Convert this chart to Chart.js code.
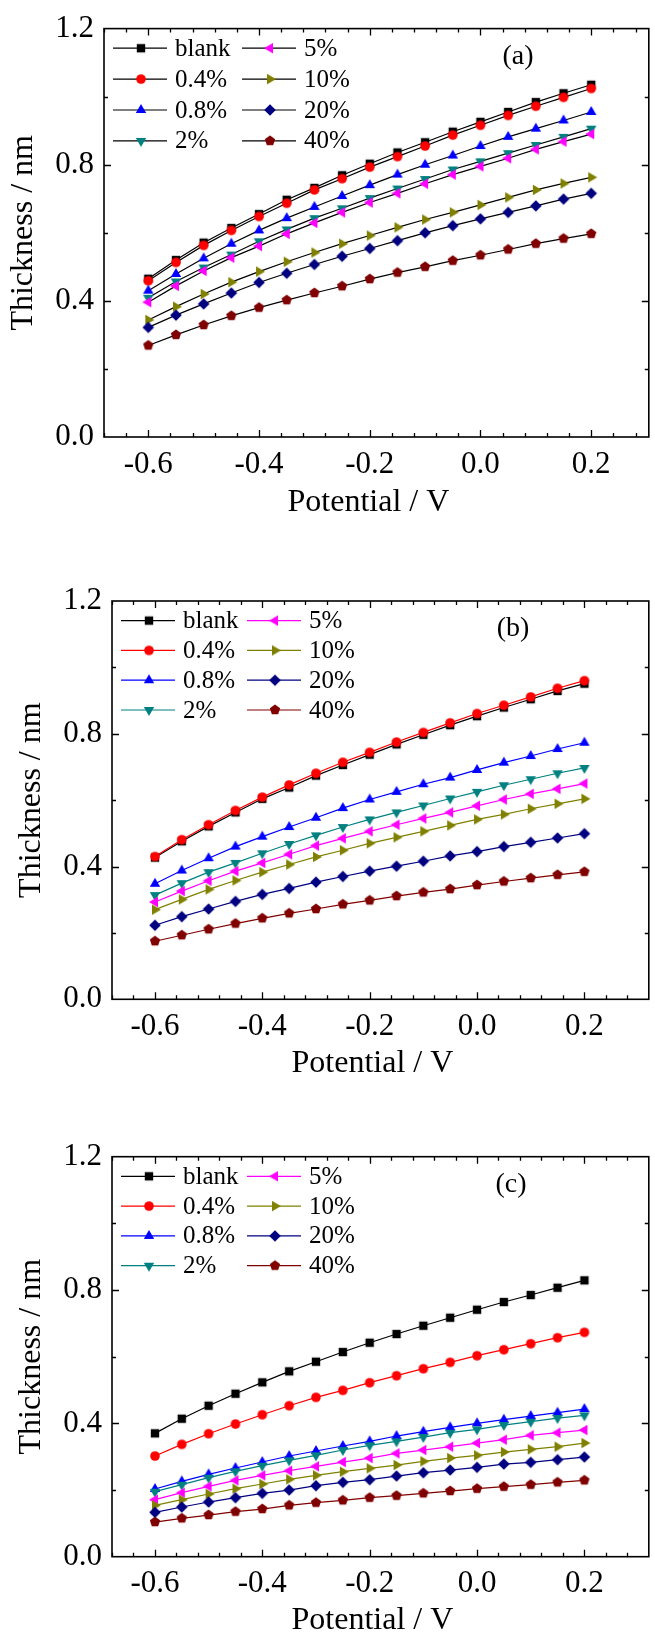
<!DOCTYPE html>
<html>
<head>
<meta charset="utf-8">
<title>Thickness vs potential</title>
<script src="https://cdn.jsdelivr.net/npm/chart.js@4.4.1/dist/chart.umd.min.js"></script>
<style>
  html, body { margin: 0; padding: 0; background: #fff; }
  body { position: relative; width: 655px; height: 1633px; overflow: hidden; }
  canvas { position: absolute; left: 0; }
</style>
</head>
<body>
<canvas id="chartA" width="655" height="540" style="top:0px"></canvas>
<canvas id="chartB" width="655" height="545" style="top:545px"></canvas>
<canvas id="chartC" width="655" height="543" style="top:1090px"></canvas>
<script>
// potential values (V) shared by every series
const potential = [-0.6, -0.55, -0.5, -0.45, -0.4, -0.35, -0.3, -0.25, -0.2, -0.15, -0.1, -0.05, 0, 0.05, 0.1, 0.15, 0.2];
const seriesNames = ['blank', '0.4%', '0.8%', '2%', '5%', '10%', '20%', '40%'];
const seriesColors = ['#000000', '#ff0000', '#0000ff', '#008080', '#ff00ff', '#808000', '#000080', '#800000'];
const markerShapes = ['square', 'circle', 'triUp', 'triDown', 'triLeft', 'triRight', 'diamond', 'pentagon'];
const xTicks = [-0.6, -0.4, -0.2, 0.0, 0.2];
const yTicks = [0.0, 0.4, 0.8, 1.2];

// panel (a) thickness, nm
const aBlank = [0.465, 0.520, 0.571, 0.614, 0.655, 0.697, 0.732, 0.769, 0.803, 0.836, 0.866, 0.897, 0.926, 0.955, 0.984, 1.010, 1.035];
const aP04 = [0.459, 0.513, 0.563, 0.607, 0.648, 0.687, 0.726, 0.759, 0.793, 0.824, 0.855, 0.887, 0.916, 0.945, 0.972, 0.998, 1.024];
const aP08 = [0.430, 0.479, 0.525, 0.568, 0.607, 0.643, 0.676, 0.708, 0.740, 0.771, 0.800, 0.827, 0.855, 0.882, 0.906, 0.930, 0.955];
const aP2 = [0.409, 0.457, 0.498, 0.536, 0.575, 0.610, 0.643, 0.672, 0.702, 0.730, 0.758, 0.786, 0.810, 0.834, 0.858, 0.882, 0.906];
const aP5 = [0.396, 0.444, 0.488, 0.527, 0.561, 0.597, 0.629, 0.660, 0.689, 0.716, 0.744, 0.771, 0.795, 0.819, 0.845, 0.868, 0.890];
const aP10 = [0.344, 0.383, 0.420, 0.455, 0.486, 0.515, 0.542, 0.568, 0.592, 0.616, 0.639, 0.660, 0.682, 0.704, 0.726, 0.745, 0.763];
const aP20 = [0.322, 0.358, 0.391, 0.423, 0.454, 0.481, 0.507, 0.531, 0.554, 0.577, 0.600, 0.621, 0.641, 0.660, 0.679, 0.699, 0.716];
const aP40 = [0.269, 0.300, 0.329, 0.356, 0.380, 0.402, 0.423, 0.443, 0.464, 0.483, 0.500, 0.518, 0.534, 0.551, 0.568, 0.583, 0.597];

// panel (b)
const bBlank = [0.427, 0.476, 0.521, 0.563, 0.604, 0.638, 0.674, 0.706, 0.737, 0.768, 0.797, 0.826, 0.853, 0.879, 0.904, 0.929, 0.951];
const bP04 = [0.430, 0.481, 0.526, 0.569, 0.609, 0.646, 0.681, 0.714, 0.744, 0.775, 0.804, 0.833, 0.861, 0.886, 0.911, 0.937, 0.960];
const bP08 = [0.348, 0.388, 0.425, 0.460, 0.490, 0.519, 0.547, 0.576, 0.602, 0.625, 0.648, 0.668, 0.691, 0.713, 0.733, 0.754, 0.773];
const bP2 = [0.314, 0.350, 0.383, 0.411, 0.440, 0.468, 0.494, 0.519, 0.542, 0.563, 0.584, 0.605, 0.625, 0.645, 0.663, 0.681, 0.697];
const bP5 = [0.293, 0.326, 0.357, 0.386, 0.411, 0.437, 0.463, 0.485, 0.506, 0.526, 0.545, 0.563, 0.583, 0.602, 0.619, 0.634, 0.650];
const bP10 = [0.270, 0.301, 0.331, 0.358, 0.383, 0.406, 0.429, 0.449, 0.470, 0.488, 0.506, 0.524, 0.542, 0.557, 0.574, 0.589, 0.604];
const bP20 = [0.223, 0.249, 0.272, 0.295, 0.316, 0.334, 0.353, 0.370, 0.386, 0.401, 0.416, 0.432, 0.445, 0.460, 0.473, 0.486, 0.499];
const bP40 = [0.175, 0.193, 0.211, 0.228, 0.244, 0.259, 0.272, 0.286, 0.298, 0.311, 0.322, 0.332, 0.344, 0.355, 0.365, 0.375, 0.384];

// panel (c)
const cBlank = [0.370, 0.414, 0.453, 0.489, 0.523, 0.556, 0.585, 0.614, 0.642, 0.668, 0.693, 0.717, 0.741, 0.764, 0.785, 0.807, 0.829];
const cP04 = [0.302, 0.337, 0.369, 0.398, 0.426, 0.453, 0.478, 0.499, 0.522, 0.543, 0.564, 0.583, 0.603, 0.621, 0.639, 0.657, 0.673];
const cP08 = [0.203, 0.226, 0.247, 0.266, 0.284, 0.302, 0.317, 0.332, 0.346, 0.362, 0.375, 0.388, 0.400, 0.411, 0.422, 0.432, 0.443];
const cP2 = [0.195, 0.216, 0.237, 0.256, 0.273, 0.289, 0.304, 0.320, 0.334, 0.346, 0.359, 0.372, 0.382, 0.395, 0.405, 0.416, 0.424];
const cP5 = [0.171, 0.192, 0.211, 0.229, 0.244, 0.258, 0.271, 0.284, 0.296, 0.310, 0.320, 0.330, 0.341, 0.351, 0.364, 0.372, 0.380];
const cP10 = [0.154, 0.171, 0.188, 0.204, 0.218, 0.232, 0.244, 0.255, 0.265, 0.275, 0.286, 0.296, 0.304, 0.314, 0.322, 0.330, 0.341];
const cP20 = [0.133, 0.149, 0.164, 0.177, 0.190, 0.200, 0.213, 0.223, 0.231, 0.242, 0.252, 0.260, 0.268, 0.278, 0.283, 0.291, 0.299];
const cP40 = [0.104, 0.115, 0.125, 0.135, 0.143, 0.154, 0.162, 0.169, 0.177, 0.183, 0.190, 0.197, 0.204, 0.210, 0.216, 0.223, 0.229];

const SERIF = "'Liberation Serif', 'Times New Roman', serif";

// draws one marker shape centred on (cx, cy)
function traceMarker(ctx, shape, cx, cy) {
  ctx.beginPath();
  const poly = (r, n, rot) => {
    for (let k = 0; k < n; k++) {
      const t = rot + k * 2 * Math.PI / n;
      const px = cx + r * Math.cos(t), py = cy + r * Math.sin(t);
      k ? ctx.lineTo(px, py) : ctx.moveTo(px, py);
    }
    ctx.closePath();
  };
  switch (shape) {
    case 'square': ctx.rect(cx - 4.2, cy - 4.2, 8.4, 8.4); break;
    case 'circle': ctx.arc(cx, cy, 4.8, 0, 2 * Math.PI); break;
    case 'triUp': poly(6, 3, -Math.PI / 2); break;
    case 'triDown': poly(6, 3, Math.PI / 2); break;
    case 'triLeft': poly(6, 3, Math.PI); break;
    case 'triRight': poly(6, 3, 0); break;
    case 'diamond': poly(5.8, 4, -Math.PI / 2); break;
    case 'pentagon': poly(5.4, 5, -Math.PI / 2); break;
  }
}

function markerImage(shape, color) {
  const c = document.createElement('canvas');
  c.width = 16; c.height = 16;
  const g = c.getContext('2d');
  traceMarker(g, shape, 8, 8);
  g.fillStyle = color;
  g.fill();
  return c;
}

const markerImages = markerShapes.map((s, i) => markerImage(s, seriesColors[i]));

// frame, inward ticks, legend, panel letter and axis titles
const panelDecor = {
  id: 'panelDecor',
  afterDatasetsDraw(chart) {
    const o = chart.options.plugins.panelDecor;
    const { ctx, chartArea: a, scales: { x, y } } = chart;
    ctx.save();
    ctx.strokeStyle = '#000';
    ctx.lineWidth = 1.6;
    ctx.strokeRect(a.left, a.top, a.right - a.left, a.bottom - a.top);

    ctx.lineWidth = 1.3;
    ctx.beginPath();
    for (let v = -0.68; v <= 0.321; v += 0.04) {
      const major = xTicks.some(t => Math.abs(t - v) < 1e-6);
      const len = major ? 7 : 4;
      const px = Math.round(x.getPixelForValue(v)) + 0.5;
      if (px > a.right - 1) continue;
      ctx.moveTo(px, a.bottom); ctx.lineTo(px, a.bottom - len);
      ctx.moveTo(px, a.top); ctx.lineTo(px, a.top + len);
    }
    for (let v = 0.2; v < 1.2; v += 0.2) {
      const major = yTicks.some(t => Math.abs(t - v) < 1e-6);
      const len = major ? 7 : 4;
      const py = Math.round(y.getPixelForValue(v)) + 0.5;
      ctx.moveTo(a.left, py); ctx.lineTo(a.left + len, py);
      ctx.moveTo(a.right, py); ctx.lineTo(a.right - len, py);
    }
    ctx.stroke();

    // two-column legend
    ctx.font = '25px ' + SERIF;
    ctx.textBaseline = 'middle';
    ctx.textAlign = 'left';
    seriesNames.forEach((name, i) => {
      const col = Math.floor(i / 4), row = i % 4;
      const x0 = a.left + col * o.colGap;
      const yy = a.top + 19.6 + row * o.rowGap;
      ctx.strokeStyle = o.blackLines ? '#000' : seriesColors[i];
      ctx.lineWidth = 1.2;
      ctx.beginPath();
      ctx.moveTo(x0 + 9, yy); ctx.lineTo(x0 + 63, yy);
      ctx.stroke();
      ctx.drawImage(markerImages[i], x0 + 37 - 8, yy - 8);
      ctx.fillStyle = '#000';
      ctx.fillText(name, x0 + 71, yy + 1);
    });

    ctx.font = '28px ' + SERIF;
    ctx.textAlign = 'center';
    ctx.fillText(o.letter, a.left + o.letterDx, a.top + 28);

    ctx.font = '32px ' + SERIF;
    ctx.fillText('Potential / V', (a.left + a.right) / 2 - 8, a.bottom + o.titleDy);
    ctx.translate(o.yTitleX, (a.top + a.bottom) / 2);
    ctx.rotate(-Math.PI / 2);
    ctx.fillText('Thickness / nm', 0, 0);
    ctx.restore();
  }
};

function buildPanel(canvasId, values, box, decor) {
  const canvas = document.getElementById(canvasId);
  const W = canvas.width, H = canvas.height;
  const datasets = values.map((vals, i) => ({
    label: seriesNames[i],
    data: potential.map((p, k) => ({ x: p, y: vals[k] })),
    borderColor: decor.blackLines ? '#000000' : seriesColors[i],
    borderWidth: 1.2,
    pointStyle: markerImages[i],
    pointRadius: 5,
    tension: 0,
    order: values.length - i
  }));
  return new Chart(canvas, {
    type: 'line',
    data: { datasets },
    options: {
      responsive: false,
      animation: false,
      events: [],
      layout: { padding: { top: box.top, right: W - box.right, left: 0, bottom: 0 } },
      plugins: { legend: { display: false }, tooltip: { enabled: false }, panelDecor: decor },
      scales: {
        x: {
          type: 'linear',
          min: -0.68,
          max: decor.xMax,
          grid: { display: false, drawTicks: false },
          border: { display: false },
          afterFit: s => { s.height = H - box.bottom; },
          afterBuildTicks: s => { s.ticks = xTicks.map(v => ({ value: v })); },
          ticks: {
            padding: 9,
            color: '#000',
            font: { family: SERIF, size: 31 },
            maxRotation: 0,
            callback: v => v.toFixed(1)
          }
        },
        y: {
          min: 0,
          max: 1.2,
          grid: { display: false, drawTicks: false },
          border: { display: false },
          afterFit: s => { s.width = box.left; },
          afterBuildTicks: s => { s.ticks = yTicks.map(v => ({ value: v })); },
          ticks: {
            padding: 10,
            color: '#000',
            font: { family: SERIF, size: 31 },
            callback: v => v.toFixed(1)
          }
        }
      }
    },
    plugins: [panelDecor]
  });
}

buildPanel('chartA', [aBlank, aP04, aP08, aP2, aP5, aP10, aP20, aP40],
  { top: 25, left: 104, bottom: 437, right: 654 },
  { letter: '(a)', letterDx: 414, yTitleX: 24, titleDy: 66, colGap: 129, rowGap: 30.9, blackLines: true, xMax: 0.304 });

buildPanel('chartB', [bBlank, bP04, bP08, bP2, bP5, bP10, bP20, bP40],
  { top: 56, left: 112, bottom: 454.3, right: 654 },
  { letter: '(b)', letterDx: 401, yTitleX: 32, titleDy: 64, colGap: 126, rowGap: 29.8, blackLines: false, xMax: 0.32 });

buildPanel('chartC', [cBlank, cP04, cP08, cP2, cP5, cP10, cP20, cP40],
  { top: 66.7, left: 112, bottom: 466.7, right: 654 },
  { letter: '(c)', letterDx: 399, yTitleX: 32, titleDy: 64, colGap: 126, rowGap: 29.8, blackLines: false, xMax: 0.32 });
</script>
</body>
</html>
